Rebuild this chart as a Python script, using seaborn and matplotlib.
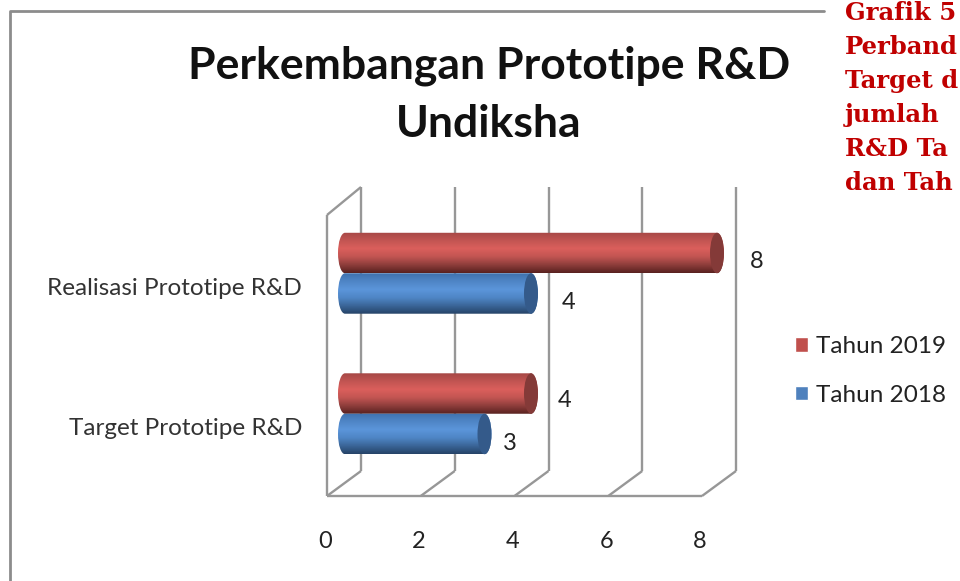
import numpy as np
import pandas as pd
import matplotlib
matplotlib.use("Agg")
import matplotlib.pyplot as plt
import seaborn as sns
from matplotlib.colors import LinearSegmentedColormap
from matplotlib.lines import Line2D
from matplotlib.patches import Ellipse, PathPatch
from matplotlib.path import Path
from matplotlib.transforms import ScaledTranslation

categories = ["Realisasi Prototipe R&D", "Target Prototipe R&D"]
tahun_2019 = [8, 4]
tahun_2018 = [4, 3]
series_names = ["Tahun 2019", "Tahun 2018"]
x_ticks = [0, 2, 4, 6, 8]
side_text = ["Grafik 5", "Perband", "Target d", "jumlah", "R&D Ta", "dan Tah"]

W, H = 960, 581
sns.set_theme(style="white")
plt.rcParams["font.family"] = ["Lato", "DejaVu Sans"]

df = pd.DataFrame({
    "kategori": categories * 2,
    "tahun": [series_names[0]] * 2 + [series_names[1]] * 2,
    "nilai": tahun_2019 + tahun_2018,
})

colors = {"Tahun 2019": "#C0504D", "Tahun 2018": "#4F81BD"}
cap_colors = {"Tahun 2019": "#843A38", "Tahun 2018": "#345A8A"}
ramps = {
    "Tahun 2019": ["#A64846", "#C25552", "#DB5F5C", "#C25552", "#8F3E3C", "#5A2220"],
    "Tahun 2018": ["#3F72AE", "#4F86C6", "#5B95DA", "#4F86C6", "#3B6699", "#264468"],
}


def px_axes(left, top, right, bottom):
    return fig.add_axes([left / W, 1 - bottom / H, (right - left) / W, (bottom - top) / H])


fig = plt.figure(figsize=(W / 100, H / 100), dpi=100, facecolor="white")

# 3D walls behind the bars
wall = px_axes(327, 187, 702, 496)
wall.set_xlim(0, 8)
wall.set_ylim(0, 309)
depth_x = 34 / (375 / 8)
line_style = dict(color="#979797", lw=1.7, clip_on=False, solid_capstyle="butt")
for t in x_ticks:
    wall.plot([t, t + depth_x], [0, 25], **line_style)
    wall.plot([t + depth_x, t + depth_x], [25, 309], **line_style)
wall.plot([0, 8], [0, 0], **line_style)
wall.plot([0, 0], [0, 281], **line_style)
wall.plot([0, depth_x], [281, 309], **line_style)
wall.set_xticks(x_ticks)
wall.set_xticklabels([str(t) for t in x_ticks], fontsize=17, color="#222222")
wall.tick_params(axis="x", length=0, pad=25.5)
for lab in wall.get_xticklabels():
    lab.set_transform(lab.get_transform() + ScaledTranslation(-0.02, 0, fig.dpi_scale_trans))
wall.set_yticks([])
sns.despine(ax=wall, left=True, bottom=True)
wall.patch.set_alpha(0)

# bars, x=0 sits 18 px right of the front corner
ax = px_axes(345, 203, 345 + 372, 484)
ax.patch.set_alpha(0)
sns.barplot(data=df, y="kategori", x="nilai", hue="tahun", hue_order=series_names,
            order=categories, palette=colors, orient="h", width=0.576, gap=0,
            saturation=1, ax=ax, legend=True)
ax.set_xlim(0, 8)
ax.set_ylim(1.5, -0.5)
handles, labels = ax.get_legend_handles_labels()
ax.get_legend().remove()

cap = 7 / (372 / 8)
k = 0.5523
for container, name in zip(ax.containers, series_names):
    cmap = LinearSegmentedColormap.from_list(name, ramps[name])
    for bar in container:
        x0, w = bar.get_x(), bar.get_width()
        y0, h = bar.get_y(), bar.get_height()
        x1 = x0 + w
        y1 = y0 + h
        ym = y0 + h / 2
        bar.set_visible(False)
        verts = [(x0, y0), (x1, y0),
                 (x1 + cap * k, y0), (x1 + cap, ym - h / 2 * k), (x1 + cap, ym),
                 (x1 + cap, ym + h / 2 * k), (x1 + cap * k, y1), (x1, y1),
                 (x0, y1),
                 (x0 - cap * k, y1), (x0 - cap, ym + h / 2 * k), (x0 - cap, ym),
                 (x0 - cap, ym - h / 2 * k), (x0 - cap * k, y0), (x0, y0)]
        codes = [Path.MOVETO, Path.LINETO] + [Path.CURVE4] * 6 + [Path.LINETO] + [Path.CURVE4] * 6
        outline = PathPatch(Path(verts, codes), fc="none", ec="none", transform=ax.transData)
        ax.add_patch(outline)
        grad = np.linspace(0, 1, 64).reshape(-1, 1)
        im = ax.imshow(grad, cmap=cmap, aspect="auto", extent=[x0 - cap, x1 + cap, y1, y0],
                       origin="upper", zorder=2, interpolation="bilinear")
        im.set_clip_box(fig.bbox)
        im.set_clip_path(outline)
        ax.add_patch(Ellipse((x1, ym), 2 * cap, h, fc=cap_colors[name], ec="none",
                             zorder=3, clip_on=False))
ax.set_xlim(0, 8)
ax.set_ylim(1.5, -0.5)

# value labels sit by hand to the right of each cylinder
label_shift = [(40, -8), (34, -7), (38, -9), (25, -10)]
values = tahun_2019 + tahun_2018
rows = [0, 1, 0, 1]
for i, (v, row, shift) in enumerate(zip(values, rows, label_shift)):
    bar = ax.containers[i // 2][row]
    bar_y = bar.get_y() + bar.get_height() / 2
    ax.annotate(str(v), (v, bar_y), xytext=shift, textcoords="offset pixels",
                ha="center", va="center", fontsize=17, color="#222222", annotation_clip=False)

for i, cat in enumerate(categories):
    ax.annotate(cat, (0, i), xytext=(-43, -15), textcoords="offset pixels", ha="right",
                va="center", fontsize=17.5, color="#333333", annotation_clip=False)
ax.set_yticks([])
ax.set_xticks([])
ax.set_xlabel("")
ax.set_ylabel("")
sns.despine(ax=ax, left=True, bottom=True)

fig.text(489 / W, 1 - 66 / H, "Perkembangan Prototipe R&D", ha="center", va="center",
         fontsize=32, fontweight="bold", color="#111111")
fig.text(489 / W, 1 - 124 / H, "Undiksha", ha="center", va="center",
         fontsize=32, fontweight="bold", color="#111111")

fig.legend(handles, labels, loc="center left", bbox_to_anchor=(773 / W, 1 - 371 / H),
           frameon=False, fontsize=17.5, handlelength=0.55, handleheight=0.55,
           labelspacing=1.13, handletextpad=0.3, labelcolor="#222222")

# outer chart frame, cut off by the page
fig.add_artist(Line2D([10 / W, 10 / W, 824 / W], [0, 1 - 11 / H, 1 - 11 / H],
                      color="#8C8C8C", lw=2, transform=fig.transFigure))

for i, line in enumerate(side_text):
    fig.text(845 / W, 1 - (19.5 + 34.2 * i) / H, line, ha="left", va="baseline",
             fontsize=17.5, fontweight="bold", color="#C00000",
             family=["DejaVu Serif"])

fig.savefig("out.png", dpi=100)
